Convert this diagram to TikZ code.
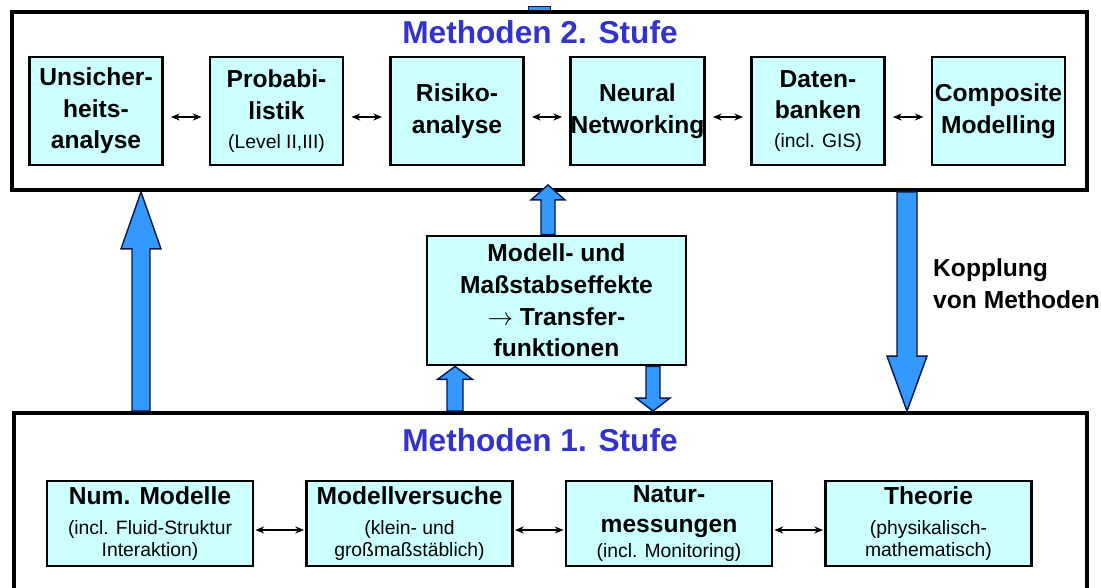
\documentclass[tikz,border=0pt]{standalone}
\usepackage{fontspec}
\setmainfont{Liberation Sans}
\usetikzlibrary{arrows.meta,calc}
\definecolor{boxcyan}{RGB}{204,255,255}
\definecolor{titleblue}{RGB}{51,51,204}
\definecolor{arrowblue}{RGB}{51,153,255}
\definecolor{arrowedge}{RGB}{10,20,70}
\newcommand{\sm}[1]{{\mdseries\fontsize{11}{13}\selectfont #1}}
% block arrow: base, tip, shaft half width, head half width, head length (cm)
\newcommand{\blockarrow}[5]{%
    \coordinate (ba) at #1;
    \coordinate (bt) at #2;
    \coordinate (bh) at ($(bt)!#5cm!(ba)$);
    \filldraw[blockarrow] ($(ba)+(-#3,0)$) -- ($(bh)+(-#3,0)$) -- ($(bh)+(-#4,0)$) -- (bt)
        -- ($(bh)+(#4,0)$) -- ($(bh)+(#3,0)$) -- ($(ba)+(#3,0)$) -- cycle;}
\tikzset{
    methbox/.style={draw, line width=1.6pt, fill=boxcyan, inner sep=0pt, align=center,
        font=\fontsize{14}{18}\selectfont\bfseries},
    topbox/.style={methbox, minimum width=2.66cm, minimum height=2.16cm},
    lowbox/.style={methbox, minimum width=4.12cm, minimum height=1.70cm,
        font=\fontsize{14}{12.5}\selectfont\bfseries},
    stufebox/.style={draw, line width=2.2pt, fill=white},
    stufetitle/.style={text=titleblue, font=\fontsize{18}{22}\selectfont\bfseries},
    link/.style={line width=0.8pt, {Stealth[length=5pt,width=4pt]}-{Stealth[length=5pt,width=4pt]}},
    blockarrow/.style={fill=arrowblue, draw=arrowedge, line width=0.8pt}
}
\begin{document}
\begin{tikzpicture}
        \clip (0,0) rectangle (22.02,11.74);
        \filldraw[blockarrow, line width=0.5pt] (10.56,11.62) rectangle (11.00,11.48);
        % frames
        \node[stufebox, minimum width=21.5cm, minimum height=3.56cm] (stufe2) at (10.99,9.72) {};
        \node[stufebox, minimum width=21.46cm, minimum height=4.08cm] (stufe1) at (11.01,1.44) {};
        \node[stufetitle] (titel2) at (10.80,11.10) {Methoden 2. Stufe};
        \node[stufetitle] (titel1) at (10.80,2.94) {Methoden 1. Stufe};
        % middle box
        \node[methbox, minimum width=5.18cm, minimum height=2.58cm] (transfer) at (11.13,5.73)
            {Modell- und\\Maßstabseffekte\\$\rightarrow$ Transfer-\\funktionen};
        % block arrows
        \blockarrow{(2.82,0 |- stufe1.north)}{(2.82,0 |- stufe2.south)}{0.18}{0.40}{1.14}
        \blockarrow{(18.14,0 |- stufe2.south)}{(18.14,0 |- stufe1.north)}{0.20}{0.40}{1.10}
        \blockarrow{(10.96,0 |- transfer.north)}{($(10.96,0 |- stufe2.south)+(0,0.14)$)}{0.14}{0.34}{0.30}
        \blockarrow{(9.10,0 |- stufe1.north)}{(9.10,0 |- transfer.south)}{0.16}{0.35}{0.26}
        \blockarrow{(13.06,0 |- transfer.south)}{(13.06,0 |- stufe1.north)}{0.14}{0.34}{0.26}
        % 2. Stufe
        \node[topbox] (unsicher) at (1.92,9.52) {Unsicher-\\heits-\\analyse};
        \node[topbox] (prob) at (5.53,9.52) {Probabi-\\listik\\[-1.5pt]\sm{(Level II,III)}};
        \node[topbox] (risiko) at (9.14,9.52) {Risiko-\\analyse};
        \node[topbox] (neural) at (12.75,9.52) {Neural\\Networking};
        \node[topbox] (daten) at (16.36,9.52) {Daten-\\banken\\[-1.5pt]\sm{(incl. GIS)}};
        \node[topbox] (composite) at (19.97,9.52) {Composite\\Modelling};
        \foreach \a/\b in {unsicher/prob, prob/risiko, risiko/neural, neural/daten, daten/composite}
            \draw[link] ([shift={(0.14,-0.12)}]\a.east) -- ([shift={(-0.14,-0.12)}]\b.west);
        % 1. Stufe
        \node[lowbox] (nummod) at (3.00,1.27) {Num. Modelle\\[4.5pt]\sm{(incl. Fluid-Struktur}\\\sm{Interaktion)}};
        \node[lowbox] (versuche) at (8.19,1.27) {Modellversuche\\[4.5pt]\sm{(klein- und}\\\sm{großmaßstäblich)}};
        \node[lowbox] (natur) at (13.38,1.27) {Natur-\\[4.5pt]messungen\\[1.5pt]\sm{(incl. Monitoring)}};
        \node[lowbox] (theorie) at (18.57,1.27) {Theorie\\[4.5pt]\sm{(physikalisch-}\\\sm{mathematisch)}};
        \foreach \a/\b in {nummod/versuche, versuche/natur, natur/theorie}
            \draw[link] ([shift={(0.02,-0.13)}]\a.east) -- ([shift={(-0.02,-0.13)}]\b.west);
        \node[anchor=west, align=left, font=\fontsize{14}{18}\selectfont\bfseries] (kopplung) at (18.54,6.06)
            {Kopplung\\von Methoden};
\end{tikzpicture}
\end{document}
